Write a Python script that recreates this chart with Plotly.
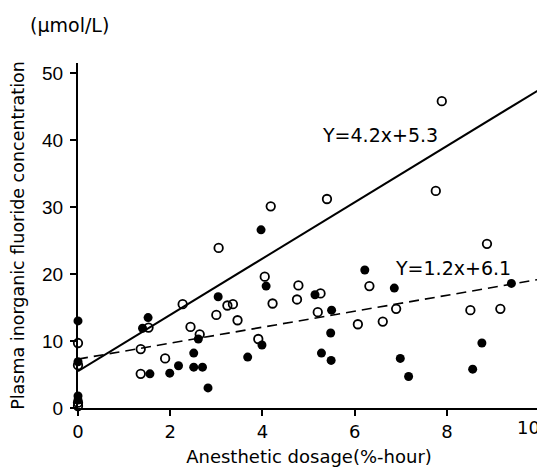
import plotly.graph_objects as go

# filled circles
filled_x = [0, 0, 0, 0, 1.40, 1.52, 1.56, 1.99, 2.18, 2.51, 2.51, 2.61, 2.70, 2.82, 3.04,
            3.68, 3.97, 3.99, 4.08, 5.14, 5.28, 5.48, 5.49, 5.50, 6.22, 6.86, 6.99, 7.17,
            8.56, 8.76, 9.40]
filled_y = [13.0, 6.9, 1.8, 1.2, 11.9, 13.5, 5.1, 5.2, 6.3, 8.2, 6.1, 10.3, 6.1, 3.0, 16.6,
            7.6, 26.6, 9.4, 18.2, 16.9, 8.2, 11.2, 7.1, 14.6, 20.6, 17.9, 7.4, 4.7,
            5.8, 9.7, 18.6]
# open circles
open_x = [0, 0, 0, 0, 1.36, 1.36, 1.53, 1.89, 2.27, 2.44, 2.64, 3.00, 3.05, 3.24, 3.36,
          3.46, 3.91, 4.05, 4.18, 4.22, 4.75, 4.78, 5.20, 5.26, 5.40, 6.07, 6.32, 6.61,
          6.90, 7.76, 7.89, 8.51, 8.87, 9.16]
open_y = [9.7, 6.4, 0.8, 0.3, 8.8, 5.1, 12.0, 7.4, 15.5, 12.1, 11.0, 13.9, 23.9, 15.3, 15.5,
          13.1, 10.3, 19.6, 30.1, 15.6, 16.2, 18.3, 14.3, 17.1, 31.2, 12.5, 18.2, 12.9,
          14.8, 32.4, 45.8, 14.6, 24.5, 14.8]
# regression lines (as drawn)
solid_x = [0, 10]
solid_y = [5.5, 47.5]
dashed_x = [0, 10]
dashed_y = [7.3, 19.2]

x_ticks = [0, 2, 4, 6, 8, 10]
y_ticks = [0, 10, 20, 30, 40, 50]

dv = "DejaVu Sans"
sans = "Liberation Sans, Arial"

fig = go.Figure()
fig.add_trace(go.Scatter(x=solid_x, y=solid_y, mode="lines",
                         line=dict(color="black", width=2), cliponaxis=False))
fig.add_trace(go.Scatter(x=dashed_x, y=dashed_y, mode="lines",
                         line=dict(color="black", width=1.6, dash="10px,6px"), cliponaxis=False))
fig.add_trace(go.Scatter(x=open_x, y=open_y, mode="markers", cliponaxis=False,
                         marker=dict(symbol="circle-open", size=8.5, color="black",
                                     line=dict(width=1.8, color="black"))))
fig.add_trace(go.Scatter(x=filled_x, y=filled_y, mode="markers", cliponaxis=False,
                         marker=dict(symbol="circle", size=9, color="black")))

fig.add_annotation(x=6.56, y=40.7, text="Y=4.2x+5.3", showarrow=False,
                   font=dict(family=dv, size=19, color="black"))
fig.add_annotation(x=8.14, y=20.9, text="Y=1.2x+6.1", showarrow=False,
                   font=dict(family=dv, size=19, color="black"))
fig.add_annotation(xref="paper", yref="paper", x=-0.108, y=1.0, yshift=38,
                   xanchor="left", yanchor="middle",
                   text="(μmol/L)", showarrow=False,
                   font=dict(family=dv, size=19, color="black"))
# last x tick label, kept inside the page edge
fig.add_annotation(x=x_ticks[-1], xref="x", yref="paper", y=0, yshift=-19,
                   xanchor="right", yanchor="middle", xshift=3,
                   text=str(x_ticks[-1]), showarrow=False,
                   font=dict(family=dv, size=18, color="black"))

# the page body adds an 8px offset, so the figure is sized to fit the window
fig.update_layout(
    width=537, height=459,
    margin=dict(l=70, r=5, t=55, b=59),
    paper_bgcolor="white", plot_bgcolor="white",
    showlegend=False,
)
fig.update_xaxes(range=[0, 10.02], tickvals=x_ticks,
                 ticktext=[str(v) for v in x_ticks[:-1]] + [""],
                 automargin=False,
                 showgrid=False, zeroline=False, showline=True, linecolor="black", linewidth=2,
                 ticks="outside", ticklen=6, tickwidth=2, tickcolor="black",
                 tickfont=dict(family=dv, size=18, color="black"),
                 title=dict(text="Anesthetic dosage(%-hour)",
                            font=dict(family=dv, size=18, color="black")))
fig.update_yaxes(range=[0, 51.5], tickvals=y_ticks, ticktext=[str(v) for v in y_ticks],
                 automargin=False,
                 showgrid=False, zeroline=False, showline=True, linecolor="black", linewidth=2,
                 ticks="outside", ticklen=6, tickwidth=2, tickcolor="black",
                 ticklabelstandoff=3,
                 tickfont=dict(family=sans, size=19, color="black"),
                 title=dict(text="Plasma inorganic fluoride concentration",
                            font=dict(family=dv, size=17.5, color="black")))

fig.write_html("out.html")
